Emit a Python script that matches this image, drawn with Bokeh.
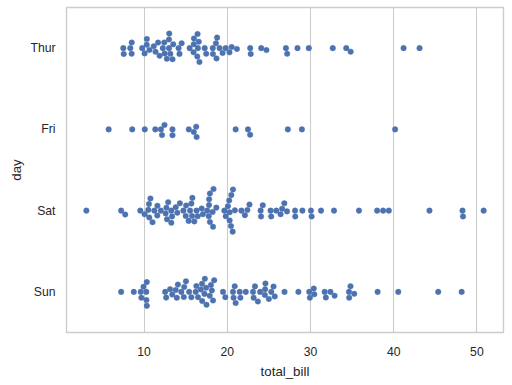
import numpy as np
from bokeh.plotting import figure
from bokeh.models import Range1d
from bokeh.embed import file_html
from bokeh.resources import INLINE

# ---------------- data (tips: total_bill by day) ----------------
days = ["Thur", "Fri", "Sat", "Sun"]

thur_bills = [27.20, 22.76, 17.29, 19.44, 16.66, 10.07, 32.68, 15.98, 34.83, 13.03, 18.28, 24.71, 21.16,
              10.65, 12.43, 24.08, 11.69, 13.42, 14.26, 15.95, 12.48, 29.80, 8.52, 14.52, 11.38, 22.82,
              19.08, 20.27, 11.17, 12.26, 18.26, 8.51, 10.33, 14.15, 16.00, 13.16, 17.47, 34.30, 41.19,
              27.05, 16.43, 8.35, 18.64, 11.87, 9.78, 7.51,
              19.81, 28.44, 15.48, 16.58, 7.56, 10.34, 43.11, 13.00, 13.51, 18.71, 12.74, 13.00, 16.40,
              20.53, 16.47, 18.78]

fri_bills = [28.97, 22.49, 5.75, 16.32, 22.75, 40.17, 27.28, 12.03, 21.01, 12.46, 11.35, 15.38,
             12.16, 13.42, 8.58, 15.98, 13.42, 16.27, 10.09]

sat_bills = [20.65, 17.92, 20.29, 15.77, 39.42, 19.82, 17.81, 13.37, 12.69, 21.70, 19.65, 9.55, 18.35,
             15.06, 20.69, 17.78, 24.06, 16.31, 16.93, 18.69, 31.27, 16.04,
             38.01, 26.41, 11.24, 48.27, 20.29, 13.81, 11.02, 18.29, 17.59, 20.08, 16.45, 3.07, 20.23,
             15.01, 12.02, 17.07, 26.86, 25.28, 14.73, 10.51, 17.92,
             44.30, 22.42, 20.92, 15.36, 20.49, 25.21, 18.24, 14.31, 14.00, 7.25,
             10.59, 10.63, 50.81, 15.81,
             26.59, 38.73, 24.27, 12.76, 30.06, 25.89, 48.33, 13.27, 28.17, 12.90, 28.15, 11.59, 7.74, 30.14,
             20.45, 13.28, 22.12, 24.01, 15.69, 11.61, 10.77, 15.53, 10.07, 12.60, 32.83, 35.83, 29.03,
             27.18, 22.67, 17.82]

sun_bills = [16.99, 10.34, 21.01, 23.68, 24.59, 25.29, 8.77, 26.88, 15.04, 14.78, 10.27, 35.26, 15.42,
             18.43, 14.83, 21.58, 10.33, 16.29, 16.97,
             17.46, 13.94, 9.68, 30.40, 18.29, 22.23, 32.40, 28.55, 18.04, 12.54, 10.29, 34.81, 9.94,
             25.56, 19.49,
             38.07, 23.95, 25.71, 17.31, 29.93,
             14.07, 13.13, 17.26, 24.55, 19.77, 29.85, 48.17, 25.00, 13.39, 16.49, 21.50, 12.66, 16.21,
             13.81, 17.51, 24.52, 20.76, 31.71,
             7.25, 31.85, 16.82, 32.90, 17.89, 14.48, 9.60, 34.63, 34.65, 23.33, 45.35, 23.17, 40.55,
             20.69, 20.90, 30.46, 18.15, 23.10, 15.69]

series = [thur_bills, fri_bills, sat_bills, sun_bills]
x_ticks = [10, 20, 30, 40, 50]

# ---------------- layout ----------------
FRAME_W, FRAME_H = 437, 325
all_vals = np.concatenate([np.asarray(s, float) for s in series])
lo, hi = all_vals.min(), all_vals.max()
pad = 0.05 * (hi - lo)
xmin, xmax = lo - pad, hi + pad
ppu_x = FRAME_W / (xmax - xmin)
ppu_y = FRAME_H / 4.0
DPI = 80
radius = 5 / 2 * DPI / 72.0  # marker size 5pt


def beeswarm(vals):
    vals = np.asarray(vals, float)
    n = len(vals)
    xyr = np.c_[np.zeros(n), (vals - xmin) * ppu_x, np.full(n, radius)]
    sorter = np.argsort(xyr[:, 1])
    orig = xyr[sorter]
    midline = orig[0, 0]
    swarm = [orig[0]]
    for p_i in orig[1:]:
        x_i, y_i, r_i = p_i
        neighbors = []
        for p_j in reversed(swarm):
            if (y_i - p_j[1]) < (r_i + p_j[2]):
                neighbors.append(p_j)
            else:
                break
        cands = [p_i]
        left_first = True
        for x_j, y_j, r_j in neighbors:
            dy = y_i - y_j
            dx = np.sqrt(max((r_i + r_j) ** 2 - dy ** 2, 0)) * 1.05
            cl, cr = np.array([x_j - dx, y_i, r_i]), np.array([x_j + dx, y_i, r_i])
            cands.extend([cl, cr] if left_first else [cr, cl])
            left_first = not left_first
        cands = np.array(cands)
        cands = cands[np.argsort(np.abs(cands[:, 0] - midline))]
        chosen = cands[0]
        if neighbors:
            nb = np.array(neighbors)
            for c in cands:
                d2 = (nb[:, 0] - c[0]) ** 2 + (nb[:, 1] - c[1]) ** 2
                if np.all(d2 >= (nb[:, 2] + c[2]) ** 2):
                    chosen = c
                    break
        swarm.append(chosen)
    swarm = np.array(swarm)
    out = np.empty_like(swarm)
    out[sorter] = swarm
    return out[:, 0]


xs, ys = [], []
for i, vals in enumerate(series):
    off = beeswarm(vals)
    yy = np.clip(i - off / ppu_y, i - 0.4, i + 0.4)
    xs.extend(vals)
    ys.extend(yy.tolist())

# ---------------- figure ----------------
p = figure(frame_width=FRAME_W, frame_height=FRAME_H,
           x_range=Range1d(xmin, xmax), y_range=Range1d(3.5, -0.5),
           output_backend="svg", toolbar_location=None,
           min_border_left=66, min_border_top=7, min_border_right=5, min_border_bottom=45)
p.background_fill_color = "white"
p.border_fill_color = "white"
p.outline_line_color = "#cccccc"
p.outline_line_width = 1.4

p.scatter(xs, ys, size=2 * radius, fill_color="#4C72B0", line_color="#4C72B0", line_width=0.4)

p.xaxis.ticker = x_ticks
p.yaxis.ticker = [0, 1, 2, 3]
p.yaxis.major_label_overrides = {i: d for i, d in enumerate(days)}
p.xaxis.axis_label = "total_bill"
p.yaxis.axis_label = "day"

for ax in (p.xaxis[0], p.yaxis[0]):
    ax.axis_line_color = None
    ax.major_tick_line_color = None
    ax.minor_tick_line_color = None
    ax.major_tick_out = 0
    ax.major_tick_in = 0
    ax.major_label_text_font = "Liberation Sans"
    ax.major_label_text_font_size = "12.2px"
    ax.major_label_text_color = "#262626"
    ax.axis_label_text_font = "Liberation Sans"
    ax.axis_label_text_font_size = "13.3px"
    ax.axis_label_text_font_style = "normal"
    ax.axis_label_text_color = "#262626"

p.xaxis.major_label_standoff = 14
p.yaxis.major_label_standoff = 11
p.xaxis.axis_label_standoff = 5
p.yaxis.axis_label_standoff = 3

p.xgrid.grid_line_color = "#cccccc"
p.xgrid.grid_line_width = 1.1
p.ygrid.grid_line_color = None

open("out.html", "w").write(file_html(p, INLINE))
